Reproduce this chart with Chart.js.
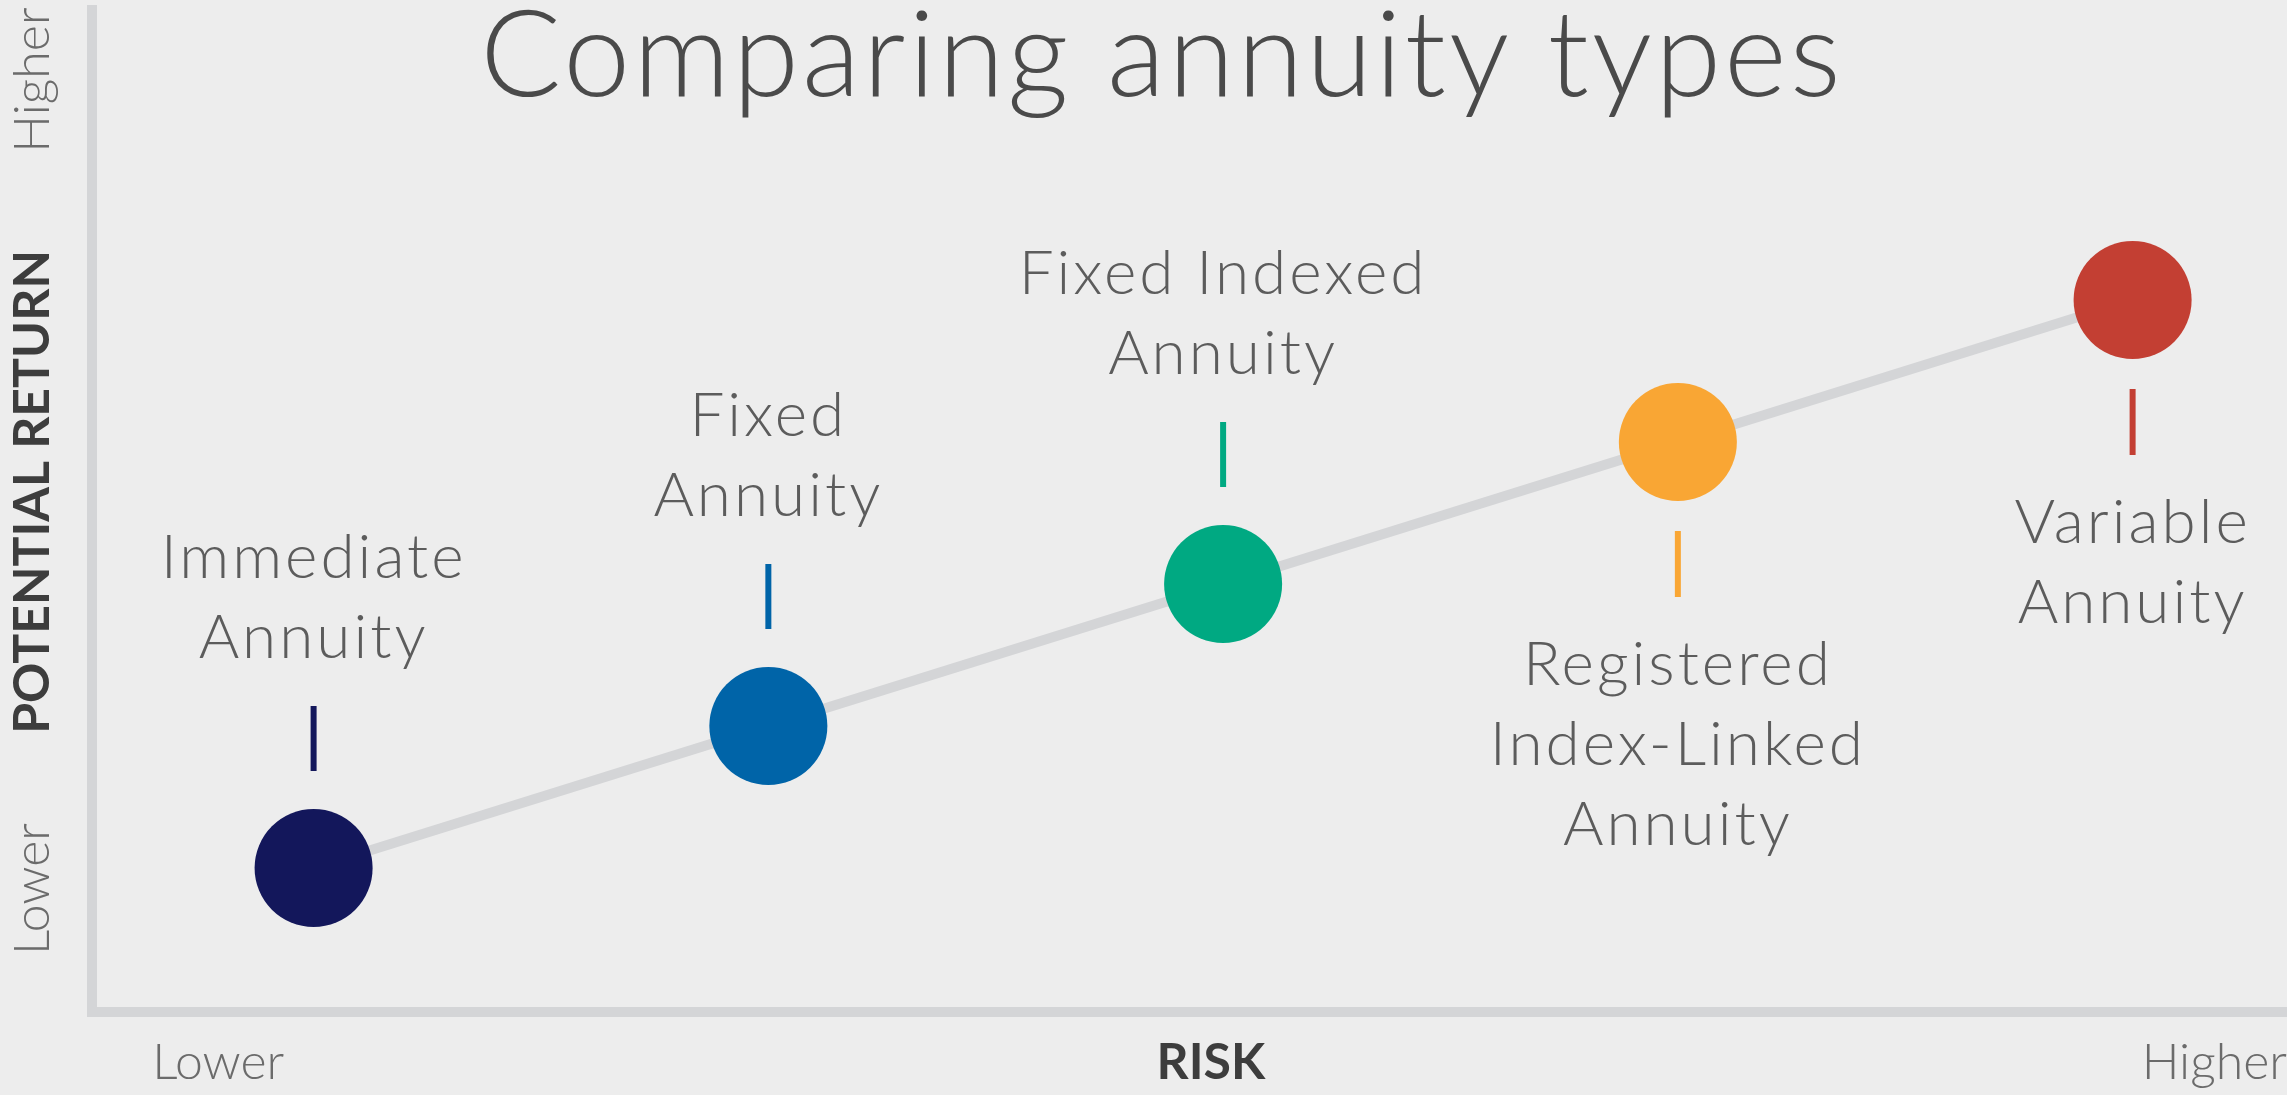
<!DOCTYPE html>
<html>
<head>
<meta charset="utf-8">
<title>Comparing annuity types</title>
<script src="https://cdn.jsdelivr.net/npm/chart.js@4.4.1/dist/chart.umd.min.js"></script>
<style>
  html, body { margin: 0; padding: 0; background: #ededed; }
  #wrap { width: 2287px; height: 1095px; position: relative; }
</style>
</head>
<body>
<div id="wrap"><canvas id="annuityChart"></canvas></div>
<script>
// annuity types, placed on risk (x) vs potential return (y)
const annuityNames = [
  ['Immediate', 'Annuity'],
  ['Fixed', 'Annuity'],
  ['Fixed Indexed', 'Annuity'],
  ['Registered', 'Index-Linked', 'Annuity'],
  ['Variable', 'Annuity']
];
const riskLevels = [1, 2, 3, 4, 5];
const returnLevels = [1, 2, 3, 4, 5];
const labelSides = ['above', 'above', 'above', 'below', 'below'];
const pointColors = ['#13175b', '#0064a8', '#00a982', '#f9a634', '#c33f33'];

const xTickValues = [0.645, 2.973, 5.3395];
const xTickLabels = ['Lower', 'RISK', 'Higher'];
const yTickValues = [0.852, 3.648, 6.549];
const yTickLabels = ['Lower', 'POTENTIAL RETURN', 'Higher'];

const fontFamily = 'Lato, "Open Sans", sans-serif';
const isAxisName = (t) => !!t && t === t.toUpperCase();

// names + little coloured stems next to each circle
const annuityLabels = {
  id: 'annuityLabels',
  afterDatasetsDraw(chart) {
    const ctx = chart.ctx;
    const meta = chart.getDatasetMeta(0);
    ctx.save();
    meta.data.forEach((pt, i) => {
      const x = pt.x, y = pt.y;
      const up = labelSides[i] === 'above';
      ctx.strokeStyle = pointColors[i];
      ctx.lineWidth = 6;
      ctx.beginPath();
      if (up) { ctx.moveTo(x, y - 97); ctx.lineTo(x, y - 162); }
      else { ctx.moveTo(x, y + 89); ctx.lineTo(x, y + 155); }
      ctx.stroke();

      ctx.font = '300 62px ' + fontFamily;
      ctx.letterSpacing = '3px';
      ctx.fillStyle = '#5c5c5c';
      ctx.textAlign = 'center';
      ctx.textBaseline = 'alphabetic';
      const lines = annuityNames[i];
      lines.forEach((t, j) => {
        const by = up ? y - 210 - (lines.length - 1 - j) * 80 : y + 243 + j * 80;
        ctx.fillText(t, x, by);
      });
    });
    ctx.restore();
  }
};

// title and the rotated y axis words
const frameText = {
  id: 'frameText',
  afterDraw(chart) {
    const ctx = chart.ctx;
    const yScale = chart.scales.y;
    ctx.save();
    ctx.fillStyle = '#4a4a4a';
    ctx.font = '300 120px ' + fontFamily;
    ctx.letterSpacing = '3px';
    ctx.textAlign = 'center';
    ctx.textBaseline = 'alphabetic';
    ctx.fillText('Comparing annuity types', 1162, 96);
    ctx.letterSpacing = '0px';

    yTickLabels.forEach((t, i) => {
      ctx.save();
      ctx.translate(49, yScale.getPixelForValue(yTickValues[i]));
      ctx.rotate(-Math.PI / 2);
      ctx.font = (isAxisName(t) ? 'bold ' : '300 ') + '50px ' + fontFamily;
      ctx.fillStyle = isAxisName(t) ? '#3d3d3d' : '#6b6b6b';
      ctx.fillText(t, 0, 0);
      ctx.restore();
    });
    ctx.restore();
  }
};

const config = {
  type: 'scatter',
  data: {
    datasets: [{
      data: riskLevels.map((r, i) => ({ x: r, y: returnLevels[i] })),
      showLine: true,
      borderColor: '#d4d5d7',
      borderWidth: 10,
      tension: 0,
      pointRadius: 59,
      pointHoverRadius: 59,
      pointBorderWidth: 0,
      pointBackgroundColor: pointColors,
      clip: false
    }]
  },
  options: {
    responsive: true,
    maintainAspectRatio: false,
    devicePixelRatio: 1,
    animation: false,
    events: [],
    layout: { autoPadding: false, padding: { left: 92, top: 10, right: 0, bottom: 5 } },
    plugins: { legend: { display: false }, tooltip: { enabled: false } },
    scales: {
      x: {
        type: 'linear',
        bounds: 'data',
        min: 0.5127,
        max: 5.3395,
        afterBuildTicks: (axis) => { axis.ticks = xTickValues.map(v => ({ value: v })); },
        grid: { display: false, drawTicks: true, tickLength: 23 },
        border: { display: true, color: '#d4d5d7', width: 10 },
        ticks: {
          padding: 0,
          autoSkip: false,
          minRotation: 0,
          maxRotation: 0,
          align: 'inner',
          callback: (v, i) => xTickLabels[i],
          color: (c) => isAxisName(xTickLabels[c.index]) ? '#3d3d3d' : '#6b6b6b',
          font: (c) => ({
            family: fontFamily,
            size: 50,
            weight: isAxisName(xTickLabels[c.index]) ? 'bold' : '300',
            lineHeight: 1.1
          })
        }
      },
      y: {
        type: 'linear',
        bounds: 'data',
        min: -0.014,
        max: 7.042,
        grid: { display: false, drawTicks: false },
        border: { display: true, color: '#d4d5d7', width: 10 },
        ticks: { display: false }
      }
    }
  },
  plugins: [annuityLabels, frameText]
};

const annuityChart = new Chart(document.getElementById('annuityChart'), config);
</script>
</body>
</html>
